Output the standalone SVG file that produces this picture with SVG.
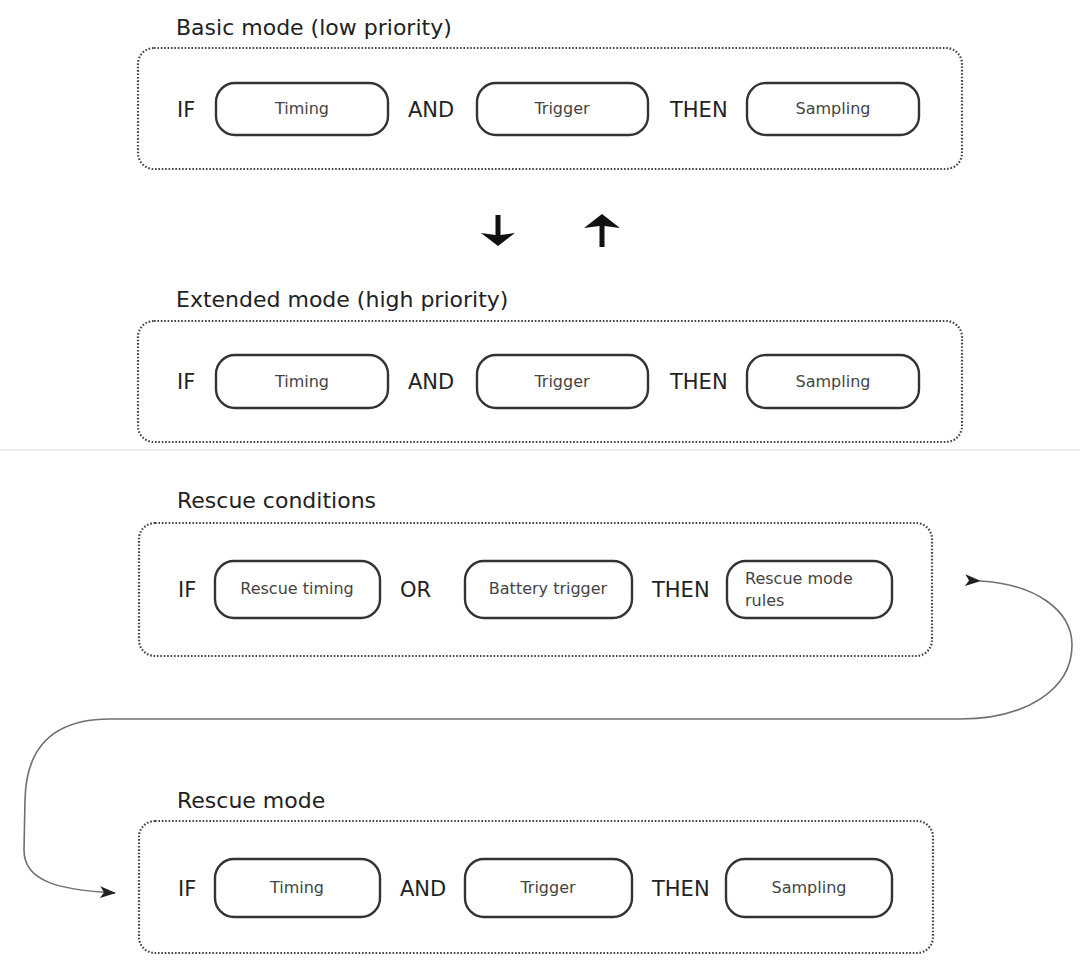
<svg xmlns="http://www.w3.org/2000/svg" width="1080" height="969" viewBox="0 0 1080 969">
<defs>
<style>
.title{font-family:"DejaVu Sans",Verdana,sans-serif;font-size:22px;fill:#222}
.op{font-family:"DejaVu Sans",Verdana,sans-serif;font-size:21px;fill:#222}
.lbl{font-family:"DejaVu Sans",Verdana,sans-serif;font-size:16px;fill:#444}
.panel{fill:none;stroke:#444;stroke-width:2.2;stroke-dasharray:1.6 1.8}
.node{fill:#fff;stroke:#333;stroke-width:2.4}
.curve{fill:none;stroke:#707070;stroke-width:1.6}
.bold{fill:#111}
</style>
<marker id="ah" viewBox="0 0 16 12" refX="15" refY="6" markerWidth="16" markerHeight="12" markerUnits="userSpaceOnUse" orient="auto">
<path d="M0 0 L16 6 L0 12 L4 6 Z" fill="#222"/>
</marker>
</defs>
<rect width="1080" height="969" fill="#fff"/>
<line x1="0" y1="450" x2="1080" y2="450" stroke="#ececec" stroke-width="2"/>

<g id="basic-mode">
<text class="title" x="176" y="35">Basic mode (low priority)</text>
<rect class="panel" x="138" y="48" width="824" height="121" rx="16"/>
<text class="op" x="177" y="117">IF</text>
<g id="basic-timing"><rect class="node" x="216" y="83" width="172" height="52" rx="19"/><text class="lbl" x="302" y="114" text-anchor="middle">Timing</text></g>
<text class="op" x="408" y="117">AND</text>
<g id="basic-trigger"><rect class="node" x="477" y="83" width="171" height="52" rx="19"/><text class="lbl" x="562" y="114" text-anchor="middle">Trigger</text></g>
<text class="op" x="670" y="117">THEN</text>
<g id="basic-sampling"><rect class="node" x="747" y="83" width="172" height="52" rx="19"/><text class="lbl" x="833" y="114" text-anchor="middle">Sampling</text></g>
</g>

<g id="extended-mode">
<text class="title" x="176" y="307">Extended mode (high priority)</text>
<rect class="panel" x="138" y="321" width="824" height="121" rx="16"/>
<text class="op" x="177" y="389">IF</text>
<g id="ext-timing"><rect class="node" x="216" y="355" width="172" height="53" rx="19"/><text class="lbl" x="302" y="387" text-anchor="middle">Timing</text></g>
<text class="op" x="408" y="389">AND</text>
<g id="ext-trigger"><rect class="node" x="477" y="355" width="171" height="53" rx="19"/><text class="lbl" x="562" y="387" text-anchor="middle">Trigger</text></g>
<text class="op" x="670" y="389">THEN</text>
<g id="ext-sampling"><rect class="node" x="747" y="355" width="172" height="53" rx="19"/><text class="lbl" x="833" y="387" text-anchor="middle">Sampling</text></g>
</g>

<g id="rescue-conditions">
<text class="title" x="177" y="508">Rescue conditions</text>
<rect class="panel" x="139" y="523" width="793" height="133" rx="16"/>
<text class="op" x="178" y="597">IF</text>
<g id="rc-timing"><rect class="node" x="215" y="561" width="165" height="57" rx="19"/><text class="lbl" x="297" y="594" text-anchor="middle">Rescue timing</text></g>
<text class="op" x="400" y="597">OR</text>
<g id="rc-battery"><rect class="node" x="465" y="561" width="167" height="57" rx="19"/><text class="lbl" x="548" y="594" text-anchor="middle">Battery trigger</text></g>
<text class="op" x="652" y="597">THEN</text>
<g id="rc-rules"><rect class="node" x="727" y="561" width="165" height="57" rx="19"/><text class="lbl" x="745" y="584">Rescue mode</text><text class="lbl" x="745" y="606">rules</text></g>
</g>

<g id="rescue-mode">
<text class="title" x="177" y="808">Rescue mode</text>
<rect class="panel" x="139" y="821" width="794" height="132" rx="16"/>
<text class="op" x="178" y="896">IF</text>
<g id="rm-timing"><rect class="node" x="215" y="859" width="165" height="58" rx="19"/><text class="lbl" x="297" y="893" text-anchor="middle">Timing</text></g>
<text class="op" x="400" y="896">AND</text>
<g id="rm-trigger"><rect class="node" x="465" y="859" width="167" height="58" rx="19"/><text class="lbl" x="548" y="893" text-anchor="middle">Trigger</text></g>
<text class="op" x="652" y="896">THEN</text>
<g id="rm-sampling"><rect class="node" x="726" y="859" width="166" height="58" rx="19"/><text class="lbl" x="809" y="893" text-anchor="middle">Sampling</text></g>
</g>

<g id="connectors">
<path class="bold" d="M495.5 215 H500.5 V235 L515 233 L498 246 L481 233 L495.5 235 Z"/>
<path class="bold" d="M599.5 247 H604.5 V226 L620 228 L602 214 L584 228 L599.5 226 Z"/>
<path class="curve" marker-start="url(#ah)" marker-end="url(#ah)" d="M980 581 C1035 584 1072 610 1072 645 C1072 690 1025 719 960 719 L110 719 C55 719 26 745 25 800 L24 850 C24 882 60 890 115 893"/>
</g>
</svg>
